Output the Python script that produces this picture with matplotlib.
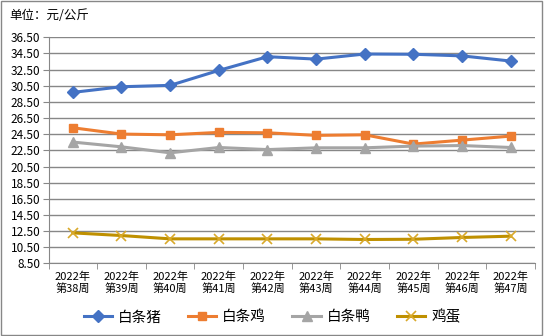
import matplotlib.pyplot as plt
import numpy as np
from matplotlib.patches import Rectangle

plt.rcParams['font.family'] = ['Noto Sans CJK SC', 'DejaVu Sans']

weeks = ["2022年\n第38周", "2022年\n第39周", "2022年\n第40周", "2022年\n第41周",
         "2022年\n第42周", "2022年\n第43周", "2022年\n第44周", "2022年\n第45周",
         "2022年\n第46周", "2022年\n第47周"]
pork = [29.68, 30.38, 30.55, 32.40, 34.10, 33.80, 34.43, 34.40, 34.20, 33.56]
chicken = [25.30, 24.52, 24.43, 24.73, 24.68, 24.36, 24.43, 23.28, 23.77, 24.27]
duck = [23.53, 22.94, 22.20, 22.86, 22.60, 22.82, 22.82, 23.03, 23.10, 22.86]
egg = [12.29, 11.96, 11.55, 11.55, 11.55, 11.55, 11.47, 11.50, 11.72, 11.88]
y_ticks = np.arange(8.5, 36.51, 2.0)

fig = plt.figure(figsize=(5.44, 3.36), dpi=100)
ax = fig.add_axes([0.0892, 0.2158, 0.8943, 0.6732])

x = np.arange(len(weeks))
ax.plot(x, pork, color="#4472C4", lw=2.2, marker="D", ms=6.5, label="白条猪", zorder=3)
ax.plot(x, chicken, color="#ED7D31", lw=2.2, marker="s", ms=5.5, label="白条鸡", zorder=3)
ax.plot(x, duck, color="#A5A5A5", lw=2.2, marker="^", ms=7, label="白条鸭", zorder=3)
ax.plot(x, egg, color="#BF9000", lw=2.2, marker="x", ms=7, mew=1.2,
        mec="#D9A92A", label="鸡蛋", zorder=3)

ax.set_xlim(-0.5, len(weeks) - 0.5)
ax.set_ylim(8.5, 36.5)
ax.set_yticks(y_ticks)
ax.set_yticklabels([f"{v:.2f}" for v in y_ticks], fontsize=8.5)
ax.yaxis.grid(True, color="#878787", lw=1)
ax.set_axisbelow(True)

# category labels centred, tick marks on the category boundaries
ax.set_xticks(x)
ax.set_xticklabels(weeks, fontsize=8, linespacing=1.15)
ax.set_xticks(np.arange(-0.5, len(weeks)), minor=True)
ax.tick_params(axis="x", which="major", length=0, pad=6)
ax.tick_params(axis="x", which="minor", length=4, color="#878787")
ax.tick_params(axis="y", length=4, color="#878787", pad=2)

for side in ("top", "right"):
    ax.spines[side].set_visible(False)
for side in ("left", "bottom"):
    ax.spines[side].set_color("#878787")

fig.text(0.018, 0.955, "单位：元/公斤", fontsize=9, va="center", ha="left")

ax.legend(loc="center", bbox_to_anchor=(0.5, 0.056), bbox_transform=fig.transFigure,
          ncol=4, frameon=False, fontsize=10.5, handlelength=1.95,
          handletextpad=0.4, columnspacing=1.8)

fig.patches.append(Rectangle((0.002, 0.003), 0.995, 0.994, transform=fig.transFigure,
                             fill=False, edgecolor="#878787", lw=1))

fig.savefig("out.png", dpi=100)
